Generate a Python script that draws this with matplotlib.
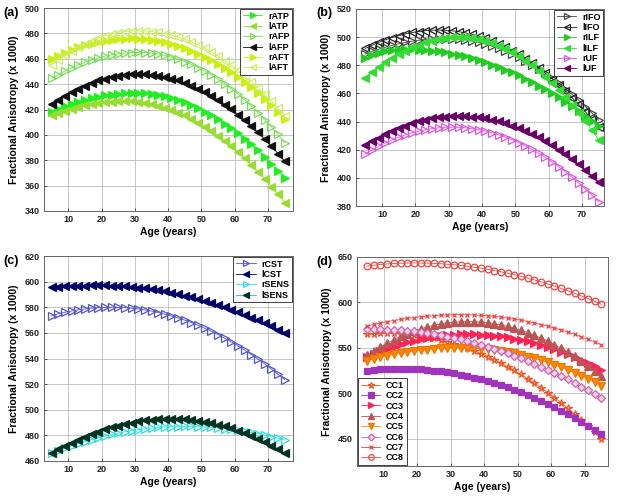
import matplotlib
matplotlib.use("Agg")
import matplotlib.pyplot as plt

plt.rcParams['font.family'] = ['Liberation Sans', 'DejaVu Sans']

ages = [5, 7, 9, 11, 13, 15, 17, 19, 21, 23, 25, 27, 29, 31, 33, 35, 37, 39,
        41, 43, 45, 47, 49, 51, 53, 55, 57, 59, 61, 63, 65, 67, 69, 71, 73, 75]

# (a)
rATP = [418.0, 420.3, 422.4, 424.3, 426.1, 427.6, 428.9, 430.1, 431.1, 431.8, 432.4, 432.8, 433.0, 433.0, 432.7, 432.2, 431.4, 430.3,
        429.0, 427.4, 425.6, 423.4, 421.1, 418.4, 415.5, 412.3, 408.9, 405.2, 401.2, 397.0, 392.5, 387.7, 382.7, 377.4, 371.8, 366.0]
lATP = [415.5, 417.4, 419.1, 420.7, 422.1, 423.2, 424.2, 425.0, 425.7, 426.1, 426.4, 426.5, 426.4, 425.9, 425.3, 424.3, 423.0, 421.5,
        419.7, 417.6, 415.3, 412.6, 409.7, 406.5, 403.0, 399.3, 395.3, 391.0, 386.4, 381.5, 376.4, 371.0, 365.3, 359.3, 353.1, 346.5]
rAFP = [444.5, 447.5, 450.3, 452.9, 455.2, 457.2, 459.1, 460.6, 462.0, 463.1, 463.9, 464.5, 464.9, 465.0, 464.9, 464.4, 463.7, 462.7,
        461.3, 459.7, 457.8, 455.6, 453.1, 450.3, 447.2, 443.9, 440.2, 436.2, 432.0, 427.4, 422.6, 417.4, 412.0, 406.3, 400.3, 393.9]
lAFP = [424.0, 427.6, 430.8, 433.8, 436.5, 438.9, 441.0, 442.9, 444.4, 445.7, 446.7, 447.4, 447.9, 448.0, 447.9, 447.4, 446.7, 445.7,
        444.4, 442.9, 441.0, 438.9, 436.5, 433.8, 430.8, 427.5, 423.9, 420.1, 416.0, 411.5, 406.8, 401.9, 396.6, 391.0, 385.2, 379.1]
rAFT = [460.0, 462.5, 464.9, 467.0, 468.9, 470.6, 472.0, 473.2, 474.2, 475.0, 475.6, 475.9, 476.0, 475.9, 475.5, 474.9, 474.1, 473.0,
        471.7, 470.2, 468.4, 466.3, 464.1, 461.6, 458.8, 455.9, 452.6, 449.2, 445.5, 441.6, 437.4, 433.0, 428.3, 423.4, 418.3, 412.9]
lAFT = [455.0, 459.0, 462.7, 466.0, 469.1, 471.8, 474.2, 476.3, 478.0, 479.4, 480.6, 481.4, 481.8, 482.0, 481.9, 481.4, 480.8, 479.8,
        478.5, 477.0, 475.2, 473.1, 470.8, 468.2, 465.3, 462.1, 458.6, 454.9, 450.9, 446.6, 442.0, 437.2, 432.0, 426.6, 421.0, 415.0]

# (b)
rIFO = [488.0, 489.8, 491.4, 492.8, 494.1, 495.3, 496.2, 497.1, 497.8, 498.3, 498.7, 498.9, 499.0, 498.9, 498.6, 498.0, 497.2, 496.3,
        495.1, 493.6, 492.0, 490.1, 488.0, 485.7, 483.2, 480.5, 477.5, 474.3, 470.9, 467.3, 463.5, 459.4, 455.2, 450.7, 446.0, 441.0]
lIFO = [492.0, 494.2, 496.3, 498.1, 499.7, 501.1, 502.3, 503.3, 504.0, 504.6, 504.9, 505.0, 504.9, 504.5, 503.9, 503.1, 502.0, 500.7,
        499.1, 497.3, 495.3, 493.0, 490.5, 487.7, 484.8, 481.5, 478.0, 474.3, 470.4, 466.2, 461.8, 457.1, 452.2, 447.0, 441.6, 436.0]
rILF = [485.0, 487.0, 488.6, 489.9, 490.8, 491.3, 491.5, 491.4, 491.2, 490.9, 490.5, 489.9, 489.2, 488.3, 487.4, 486.3, 485.0, 483.7,
        482.2, 480.5, 478.8, 476.9, 474.9, 472.8, 470.5, 468.1, 465.6, 462.9, 460.1, 457.2, 454.2, 451.0, 447.7, 444.3, 440.7, 437.0]
lILF = [471.0, 475.0, 478.7, 482.1, 485.2, 488.0, 490.5, 492.7, 494.7, 496.3, 497.6, 498.7, 499.4, 499.9, 500.0, 499.8, 499.3, 498.5,
        497.4, 495.9, 494.0, 491.9, 489.4, 486.6, 483.4, 480.0, 476.2, 472.0, 467.5, 462.7, 457.6, 452.1, 446.3, 440.2, 433.8, 427.0]
rUF = [417.0, 419.8, 422.4, 424.8, 426.9, 428.8, 430.5, 432.0, 433.2, 434.2, 435.0, 435.6, 435.9, 436.0, 435.9, 435.6, 435.0, 434.2,
       433.3, 432.1, 430.6, 429.0, 427.1, 425.0, 422.7, 420.2, 417.5, 414.5, 411.3, 407.9, 404.3, 400.5, 396.4, 392.2, 387.7, 383.0]
lUF = [423.0, 425.9, 428.6, 431.0, 433.3, 435.3, 437.1, 438.7, 440.1, 441.3, 442.3, 443.0, 443.6, 443.9, 444.0, 443.9, 443.6, 443.0,
       442.3, 441.3, 440.2, 438.8, 437.2, 435.4, 433.4, 431.1, 428.7, 426.0, 423.1, 420.1, 416.8, 413.3, 409.5, 405.6, 401.4, 397.1]

# (c)
rCST = [573.5, 574.9, 576.1, 577.1, 578.0, 578.7, 579.3, 579.7, 579.9, 580.0, 579.9, 579.7, 579.2, 578.7, 577.9, 577.0, 575.9, 574.6,
        573.2, 571.6, 569.9, 568.0, 565.9, 563.6, 561.2, 558.6, 555.8, 552.9, 549.8, 546.6, 543.1, 539.5, 535.8, 531.8, 527.7, 523.5]
lCST = [595.5, 595.9, 596.2, 596.5, 596.7, 596.9, 597.0, 597.0, 597.0, 596.8, 596.6, 596.2, 595.8, 595.3, 594.7, 594.0, 593.2, 592.3,
        591.3, 590.2, 589.0, 587.7, 586.4, 584.9, 583.4, 581.7, 580.0, 578.1, 576.2, 574.2, 572.0, 569.8, 567.5, 565.1, 562.6, 560.0]
rSENS = [466.0, 468.1, 470.0, 471.9, 473.6, 475.2, 476.7, 478.1, 479.5, 480.7, 481.8, 482.8, 483.6, 484.4, 485.1, 485.7, 486.2, 486.5,
         486.8, 486.9, 487.0, 487.0, 486.8, 486.6, 486.3, 485.8, 485.3, 484.7, 484.0, 483.2, 482.3, 481.3, 480.3, 479.1, 477.8, 476.5]
lSENS = [466.0, 469.0, 471.7, 474.3, 476.7, 478.9, 481.0, 482.9, 484.7, 486.3, 487.7, 488.9, 490.0, 490.9, 491.7, 492.3, 492.7, 492.9,
         493.0, 492.9, 492.6, 492.2, 491.5, 490.7, 489.6, 488.4, 487.0, 485.4, 483.6, 481.7, 479.5, 477.2, 474.7, 471.9, 469.0, 465.9]

# (d)
CC1 = [565.0, 565.5, 565.9, 566.0, 565.9, 565.5, 565.0, 564.2, 563.2, 561.9, 560.5, 558.8, 556.8, 554.7, 552.3, 549.7, 546.9, 543.8,
       540.5, 537.0, 533.3, 529.3, 525.1, 520.7, 516.1, 511.2, 506.1, 500.8, 495.2, 489.5, 483.5, 477.3, 470.8, 464.1, 457.2, 450.1]
CC2 = [525.0, 525.7, 526.3, 526.7, 526.9, 527.0, 526.9, 526.7, 526.3, 525.7, 525.0, 524.1, 523.1, 521.9, 520.5, 519.0, 517.3, 515.5,
       513.5, 511.3, 509.0, 506.5, 503.9, 501.1, 498.1, 495.0, 491.7, 488.3, 484.7, 480.9, 477.0, 472.9, 468.7, 464.3, 459.7, 455.0]
CC3 = [540.0, 543.2, 546.2, 549.0, 551.5, 553.9, 556.0, 557.9, 559.6, 561.0, 562.2, 563.2, 564.0, 564.6, 564.9, 565.0, 564.9, 564.6,
       564.1, 563.4, 562.6, 561.5, 560.2, 558.8, 557.1, 555.2, 553.2, 550.9, 548.5, 545.9, 543.0, 540.0, 536.8, 533.4, 529.8, 526.0]
CC4 = [542.0, 546.8, 551.2, 555.3, 559.1, 562.6, 565.7, 568.5, 570.9, 573.1, 574.9, 576.4, 577.5, 578.3, 578.8, 579.0, 578.8, 578.4,
       577.6, 576.6, 575.2, 573.6, 571.6, 569.4, 566.8, 564.0, 560.8, 557.4, 553.6, 549.6, 545.2, 540.6, 535.6, 530.4, 524.8, 519.0]
CC5 = [536.0, 537.9, 539.7, 541.3, 542.8, 544.2, 545.4, 546.5, 547.4, 548.2, 548.9, 549.4, 549.7, 549.9, 550.0, 549.9, 549.6, 549.1,
       548.5, 547.6, 546.6, 545.3, 543.9, 542.3, 540.5, 538.5, 536.3, 533.9, 531.3, 528.6, 525.6, 522.5, 519.2, 515.6, 511.9, 508.0]
CC6 = [570.4, 570.5, 570.4, 570.2, 569.9, 569.4, 568.9, 568.1, 567.3, 566.3, 565.2, 563.9, 562.5, 561.0, 559.4, 557.6, 555.7, 553.7,
       551.5, 549.2, 546.8, 544.2, 541.5, 538.7, 535.7, 532.6, 529.4, 526.0, 522.6, 518.9, 515.2, 511.3, 507.3, 503.2, 498.9, 494.5]
CC7 = [574.0, 575.8, 577.3, 578.8, 580.1, 581.3, 582.4, 583.4, 584.2, 584.9, 585.5, 585.9, 586.2, 586.4, 586.5, 586.4, 586.2, 585.8,
       585.3, 584.6, 583.8, 582.8, 581.7, 580.4, 579.0, 577.4, 575.7, 573.9, 571.8, 569.7, 567.4, 564.9, 562.3, 559.5, 556.6, 553.5]
CC8 = [640.0, 640.9, 641.7, 642.4, 642.9, 643.2, 643.4, 643.5, 643.4, 643.3, 643.0, 642.6, 642.0, 641.4, 640.7, 639.8, 638.8, 637.7,
       636.5, 635.1, 633.7, 632.1, 630.4, 628.7, 626.7, 624.7, 622.6, 620.3, 617.9, 615.4, 612.8, 610.1, 607.2, 604.3, 601.2, 598.0]

W, H = 624, 496
fig = plt.figure(figsize=(W / 100, H / 100), dpi=100)


def make_axes(left, top, right, bottom):
    return fig.add_axes([left / W, 1 - bottom / H, (right - left) / W, (bottom - top) / H])


def style(ax, ylim, yticks, xlim):
    ax.set_xlim(*xlim)
    ax.set_ylim(*ylim)
    ax.set_xticks([10, 20, 30, 40, 50, 60, 70])
    ax.set_yticks(yticks)
    ax.grid(True, color='#bdbdbd', lw=0.6)
    ax.set_axisbelow(True)
    ax.tick_params(labelsize=6.5, length=2, width=0.5, direction='in', pad=3, colors='#222222')
    for lab in ax.get_xticklabels() + ax.get_yticklabels():
        lab.set_fontweight('bold')
    for sp in ax.spines.values():
        sp.set_color('#666666')
        sp.set_linewidth(0.7)
    ax.set_xlabel('Age (years)', fontsize=7.5, fontweight='bold', labelpad=2)
    ax.set_ylabel('Fractional Anisotropy (x 1000)', fontsize=7.5, fontweight='bold', labelpad=4)


def series(ax, y, name, color, marker, face=None, ms=5.5, edge=None):
    ax.plot(ages, y, '-', lw=0.6, color=color, marker=marker, ms=ms,
            mfc=color if face is None else face, mec=color if edge is None else edge,
            mew=0.9, label=name)


def legend(ax, loc):
    lg = ax.legend(loc=loc, prop={'weight': 'bold', 'size': 6.5}, fancybox=False,
                   edgecolor='#222222', framealpha=1, borderpad=0.3, labelspacing=0.15,
                   handlelength=2.2, handletextpad=0.6, borderaxespad=0.1, markerscale=0.85)
    lg.get_frame().set_linewidth(0.6)


# panel (a)
ax = make_axes(44, 8, 293, 211)
series(ax, rATP, 'rATP', '#22ee22', '>')
series(ax, lATP, 'lATP', '#99dd33', '<')
series(ax, rAFP, 'rAFP', '#77dd55', '>', face='none')
series(ax, lAFP, 'lAFP', '#111111', '<')
series(ax, rAFT, 'rAFT', '#ccee11', '>')
series(ax, lAFT, 'lAFT', '#ccee66', '<', face='none')
style(ax, (340, 500), range(340, 501, 20), (2.7, 77.5))
legend(ax, 'upper right')

# panel (b)
ax = make_axes(356, 9, 604, 206)
series(ax, rIFO, 'rIFO', '#444444', '>', face='none')
series(ax, lIFO, 'lIFO', '#222222', '<', face='none')
series(ax, rILF, 'rILF', '#22cc22', '>')
series(ax, lILF, 'lILF', '#33dd33', '<')
series(ax, rUF, 'rUF', '#dd55dd', '>', face='none')
series(ax, lUF, 'lUF', '#660066', '<')
style(ax, (380, 520), range(380, 521, 20), (2.2, 76.6))
legend(ax, 'upper right')

# panel (c)
ax = make_axes(44, 256, 293, 461)
series(ax, rCST, 'rCST', '#5555cc', '>', face='none')
series(ax, lCST, 'lCST', '#000066', '<')
series(ax, rSENS, 'rSENS', '#33dddd', '>', face='none')
series(ax, lSENS, 'lSENS', '#22bbbb', '<', face='#003322', edge='#003322')
style(ax, (460, 620), range(460, 621, 20), (2.7, 77.5))
legend(ax, 'upper right')

# panel (d)
ax = make_axes(357, 257, 608, 466)
series(ax, CC1, 'CC1', '#ee5522', '*', face='none', ms=5.5)
series(ax, CC2, 'CC2', '#9933cc', 's', ms=4.5, edge='#aa33aa')
series(ax, CC3, 'CC3', '#ff2255', '>', ms=5.5)
series(ax, CC4, 'CC4', '#bb5555', '^', ms=5.5)
series(ax, CC5, 'CC5', '#ff8800', 'v', ms=5.5, edge='#ee7700')
series(ax, CC6, 'CC6', '#cc66aa', 'D', face='#f0d0e6', ms=4.2)
series(ax, CC7, 'CC7', '#ee4444', 'x', ms=3.5)
series(ax, CC8, 'CC8', '#ee4444', 'o', face='none', ms=4.8)
style(ax, (420, 650), range(450, 651, 50), (2.0, 77.0))
legend(ax, 'lower left')

for txt, x, y in [('(a)', 3, 13), ('(b)', 316, 13), ('(c)', 3, 261), ('(d)', 316, 262)]:
    fig.text(x / W, 1 - y / H, txt, fontsize=9, fontweight='bold', va='center', ha='left')

fig.savefig('out.png', dpi=100)
